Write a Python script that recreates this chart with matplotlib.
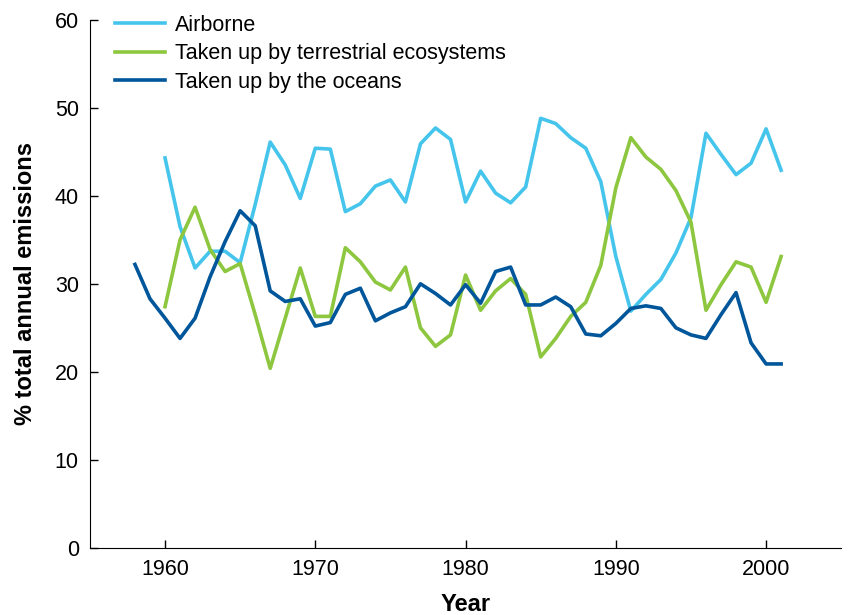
import numpy as np
import matplotlib
matplotlib.use("Agg")
import matplotlib.pyplot as plt

plt.rcParams['font.family'] = ['Liberation Sans', 'DejaVu Sans']

# years
years_air = list(range(1960, 2002))
years_ocean = list(range(1958, 2002))

# % of annual emissions
airborne = [44.3, 36.5, 31.8, 33.7, 33.7, 32.4, 39.0, 46.1, 43.5, 39.7,
            45.4, 45.3, 38.2, 39.1, 41.1, 41.8, 39.3, 45.9, 47.7, 46.4,
            39.3, 42.8, 40.3, 39.2, 41.0, 48.8, 48.2, 46.6, 45.4, 41.6,
            33.1, 26.9, 28.8, 30.5, 33.5, 37.5, 47.1, 44.7, 42.4, 43.7,
            47.6, 42.9]
terrestrial = [27.4, 35.0, 38.7, 33.9, 31.4, 32.3, 26.5, 20.4, 26.1, 31.8,
               26.3, 26.3, 34.1, 32.5, 30.2, 29.3, 31.9, 25.0, 22.9, 24.2,
               31.0, 27.0, 29.2, 30.6, 28.8, 21.7, 23.8, 26.3, 27.9, 32.1,
               40.9, 46.6, 44.4, 43.0, 40.6, 37.0, 27.0, 29.9, 32.5, 31.9,
               27.9, 33.1]
oceans = [32.2, 28.3, 26.1, 23.8, 26.1, 30.8, 34.8, 38.3, 36.6, 29.2,
          28.0, 28.3, 25.2, 25.6, 28.8, 29.5, 25.8, 26.7, 27.4, 30.0,
          28.9, 27.6, 29.9, 27.8, 31.4, 31.9, 27.6, 27.6, 28.5, 27.4,
          24.3, 24.1, 25.5, 27.2, 27.5, 27.2, 25.0, 24.2, 23.8, 26.5,
          29.0, 23.3, 20.9, 20.9]

labels = ['Airborne', 'Taken up by terrestrial ecosystems', 'Taken up by the oceans']
colors = ['#45C5EC', '#8DC63F', '#00569A']

fig = plt.figure(figsize=(8.48, 6.15), dpi=100)
ax = fig.add_axes([0.106, 0.109, 0.886, 0.859])

ax.plot(years_air, airborne, color=colors[0], lw=2.6, label=labels[0])
ax.plot(years_air, terrestrial, color=colors[1], lw=2.6, label=labels[1])
ax.plot(years_ocean, oceans, color=colors[2], lw=2.6, label=labels[2])

ax.set_xlim(1955, 2005)
ax.set_ylim(0, 60)
ax.set_xticks([1960, 1970, 1980, 1990, 2000])
ax.set_yticks(range(0, 61, 10))
ax.spines['top'].set_visible(False)
ax.spines['right'].set_visible(False)
ax.tick_params(direction='in', length=5.5, width=1, labelsize=15.5)
ax.tick_params(axis='x', pad=8)
ax.tick_params(axis='y', pad=8)

ax.set_xlabel('Year', fontsize=17, fontweight='bold', labelpad=9)
ax.set_ylabel('% total annual emissions', fontsize=17, fontweight='bold', labelpad=13)

ax.legend(loc='upper left', frameon=False, fontsize=15.5, handlelength=2.33,
          handletextpad=0.47, labelspacing=0.34, borderpad=0, borderaxespad=0,
          bbox_to_anchor=(115 / 848, 1 - 15 / 615), bbox_transform=fig.transFigure)

fig.savefig('out.png', dpi=100)
